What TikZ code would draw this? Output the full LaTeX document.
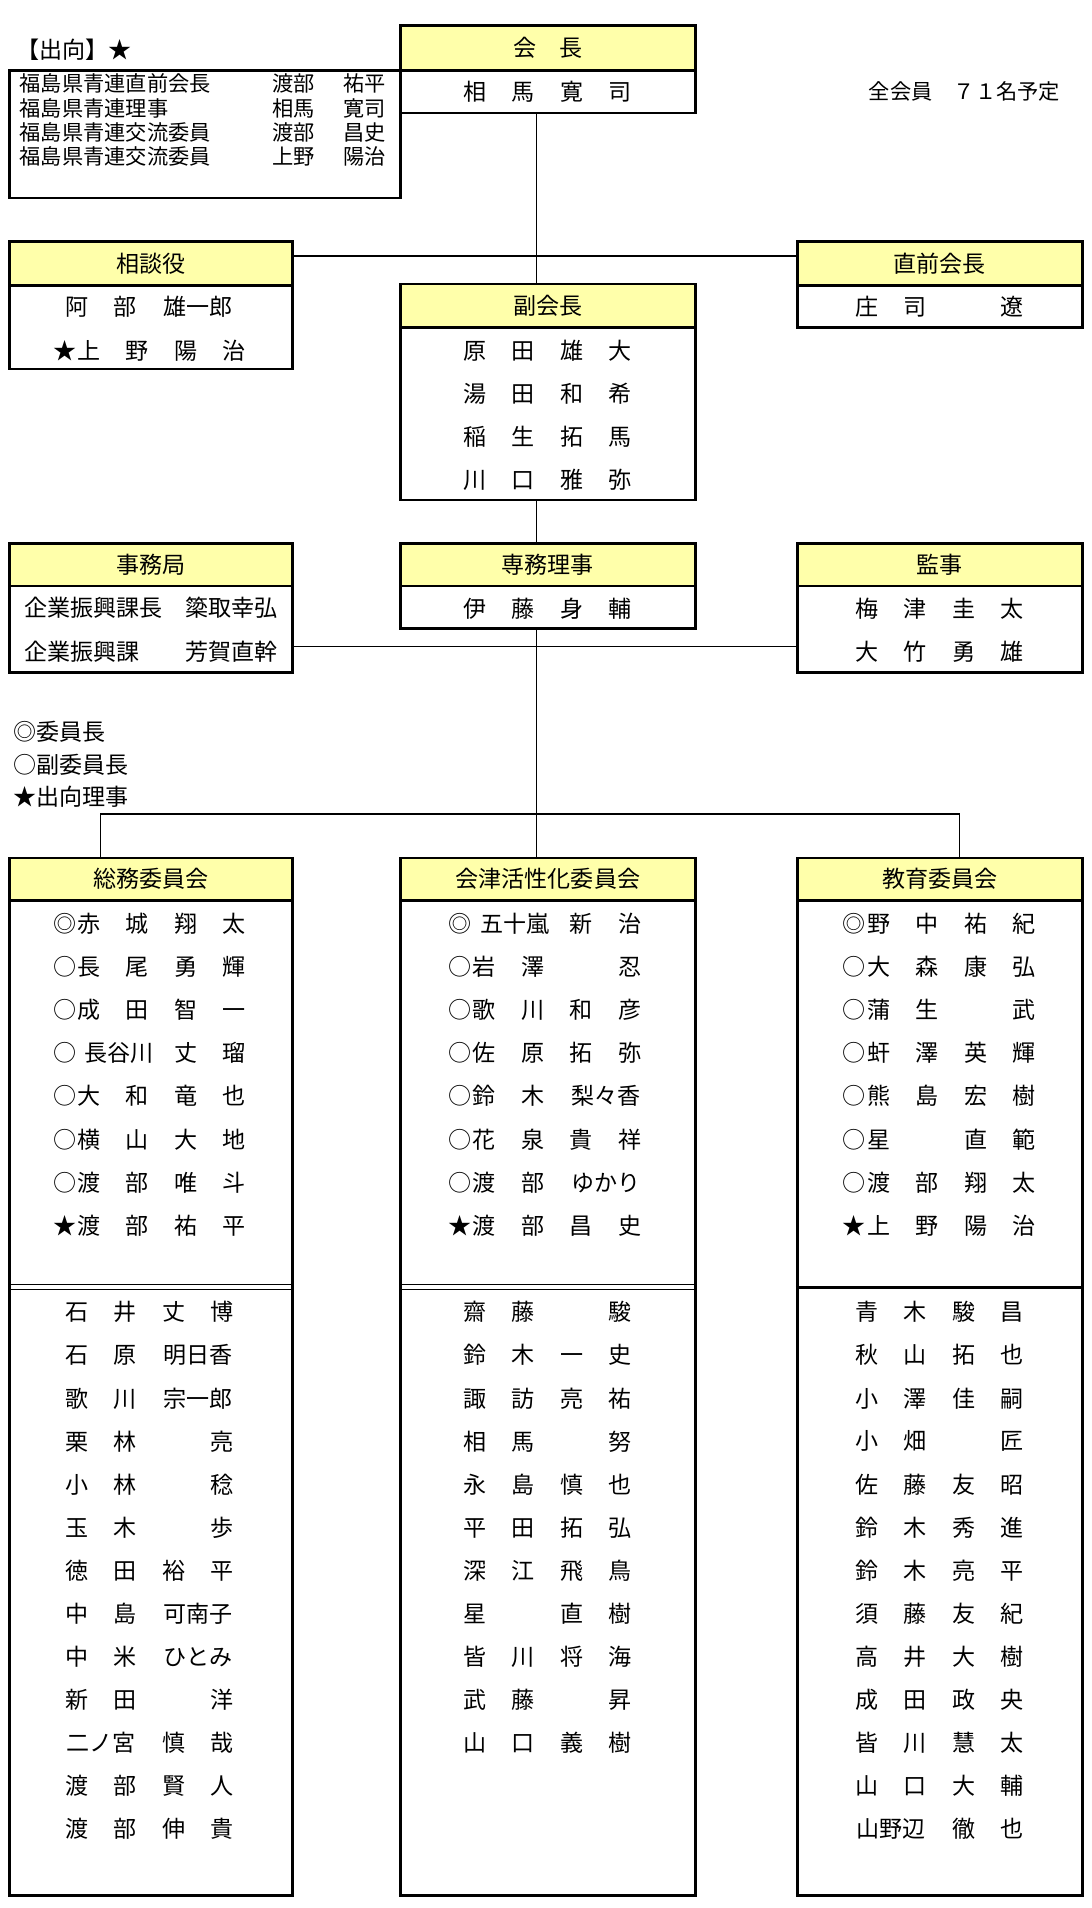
\documentclass[tikz,border=0pt]{standalone}
\usepackage{fontspec}
\setmainfont{Noto Sans CJK JP}
\newcommand\ZA[1]{\makebox[20pt]{#1}}
\newcommand\ZB[1]{\makebox[40pt]{#1}}
\newcommand\ZC[1]{\makebox[80pt]{#1}}
\newcommand\ZD[1]{\makebox[70pt]{#1}}
\newcommand\up[5]{\ZA{#1}\ZA{#2}\hspace{10pt}\ZB{#3}\ZB{#4}\ZB{#5}}
\newcommand\lo[4]{\ZB{#1}\ZB{#2}\ZB{#3}\ZB{#4}}
\definecolor{hy}{RGB}{255,255,170}
\begin{document}
\begin{tikzpicture}[x=1pt,y=-1pt,
  hdr/.style={draw,line width=2.2pt,fill=hy,inner sep=0,anchor=north west,font=\fontsize{19}{19}\selectfont},
  bdy/.style={draw,line width=2.2pt,inner sep=0,anchor=north west},
  txt/.style={inner sep=0,anchor=west,font=\fontsize{19}{19}\selectfont},
  sm/.style={inner sep=0,anchor=west,font=\fontsize{17.5}{17.5}\selectfont},
  con/.style={line width=1.1pt}]
\useasboundingbox (0,0) rectangle (900,1572.6);
\fill[white] (0,0) rectangle (900,1572.6);
% top-left
\node[txt] (shukko) at (13,41) {【出向】★};
\node[bdy,minimum width=322pt,minimum height=105pt] (shb) at (7,57) {};
\foreach \a/\b/\c [count=\i] in {福島県青連直前会長/渡部/祐平,福島県青連理事/相馬/寛司,福島県青連交流委員/渡部/昌史,福島県青連交流委員/上野/陽治}{
  \node[sm] (sa\i) at (16,49+20*\i) {\a};
  \node[sm] (sb\i) at (224,49+20*\i) {\b};
  \node[sm] (sc\i) at (283,49+20*\i) {\c};}
\node[sm] (zen) at (716,75) {全会員　７１名予定};
% 会長
\node[hdr,minimum width=243pt,minimum height=37pt] (kh) at (329,20) {会　長};
\node[bdy,minimum width=243pt,minimum height=35pt] (kb) at (329,57) {};
\node[txt] (kn) at (371,76) {\lo{相}{馬}{寛}{司}};
% 相談役
\node[hdr,minimum width=233pt,minimum height=36pt] (sh) at (7,198) {相談役};
\node[bdy,minimum width=233pt,minimum height=69pt] (sbx) at (7,234) {};
\node[txt] (s1) at (43,253) {\ZB{阿}\ZB{部}\ZC{雄一郎}};
\node[txt] (s2) at (43,289) {\up{★}{上}{野}{陽}{治}};
% 直前会長
\node[hdr,minimum width=235pt,minimum height=36pt] (ch) at (656,198) {直前会長};
\node[bdy,minimum width=235pt,minimum height=35pt] (cb) at (656,234) {};
\node[txt] (c1) at (694,253) {\lo{庄}{司}{}{遼}};
% 副会長
\node[hdr,minimum width=243pt,minimum height=36pt] (fh) at (329,233) {副会長};
\node[bdy,minimum width=243pt,minimum height=142pt] (fb) at (329,269) {};
\foreach \t [count=\i] in {{\lo{原}{田}{雄}{大}},{\lo{湯}{田}{和}{希}},{\lo{稲}{生}{拓}{馬}},{\lo{川}{口}{雅}{弥}}}
  \node[txt] (f\i) at (371,253.5+35.5*\i) {\t};
% 事務局
\node[hdr,minimum width=233pt,minimum height=35pt] (jh) at (7,447) {事務局};
\node[bdy,minimum width=233pt,minimum height=71pt] (jb) at (7,482) {};
\node[txt] (j1) at (20,501) {企業振興課長};
\node[txt,anchor=east] (j2) at (229,501) {簗取幸弘};
\node[txt] (j3) at (20,537) {企業振興課};
\node[txt,anchor=east] (j4) at (229,537) {芳賀直幹};
% 専務理事
\node[hdr,minimum width=243pt,minimum height=35pt] (mh) at (329,447) {専務理事};
\node[bdy,minimum width=243pt,minimum height=35pt] (mb) at (329,482) {};
\node[txt] (m1) at (371,502) {\lo{伊}{藤}{身}{輔}};
% 監事
\node[hdr,minimum width=235pt,minimum height=35pt] (ah) at (656,447) {監事};
\node[bdy,minimum width=235pt,minimum height=71pt] (ab) at (656,482) {};
\node[txt] (a1) at (694,502) {\lo{梅}{津}{圭}{太}};
\node[txt] (a2) at (694,537) {\lo{大}{竹}{勇}{雄}};
% legend
\node[txt] (lg1) at (11,603) {◎委員長};
\node[txt] (lg2) at (11,630) {○副委員長};
\node[txt] (lg3) at (11,657) {★出向理事};
% committees
\node[hdr,minimum width=233pt,minimum height=35pt] (c1h) at (7,706) {総務委員会};
\node[bdy,minimum width=233pt,minimum height=820pt] (c1b) at (7,741) {};
\node[hdr,minimum width=243pt,minimum height=35pt] (c2h) at (329,706) {会津活性化委員会};
\node[bdy,minimum width=243pt,minimum height=820pt] (c2b) at (329,741) {};
\node[hdr,minimum width=235pt,minimum height=35pt] (c3h) at (656,706) {教育委員会};
\node[bdy,minimum width=235pt,minimum height=820pt] (c3b) at (656,741) {};
\draw[line width=0.9pt] (c1b.west |- 0,1058.5) -- (c1b.east |- 0,1058.5) (c1b.west |- 0,1062.5) -- (c1b.east |- 0,1062.5);
\draw[line width=0.9pt] (c2b.west |- 0,1058.5) -- (c2b.east |- 0,1058.5) (c2b.west |- 0,1062.5) -- (c2b.east |- 0,1062.5);
\draw[line width=2.2pt] (c3b.west |- 0,1061) -- (c3b.east |- 0,1061);
\foreach \t [count=\i] in {{\up{◎}{赤}{城}{翔}{太}},{\up{○}{長}{尾}{勇}{輝}},{\up{○}{成}{田}{智}{一}},{\ZA{○}\ZD{長谷川}\ZB{丈}\ZB{瑠}},{\up{○}{大}{和}{竜}{也}},{\up{○}{横}{山}{大}{地}},{\up{○}{渡}{部}{唯}{斗}},{\up{★}{渡}{部}{祐}{平}}}
  \node[txt] (u1\i) at (43,726+35.5*\i) {\t};
\foreach \t [count=\i] in {{\ZA{◎}\ZD{五十嵐}\ZB{新}\ZB{治}},{\up{○}{岩}{澤}{}{忍}},{\up{○}{歌}{川}{和}{彦}},{\up{○}{佐}{原}{拓}{弥}},{\ZA{○}\ZA{鈴}\hspace{10pt}\ZB{木}\ZC{梨々香}},{\up{○}{花}{泉}{貴}{祥}},{\ZA{○}\ZA{渡}\hspace{10pt}\ZB{部}\ZC{ゆかり}},{\up{★}{渡}{部}{昌}{史}}}
  \node[txt] (u2\i) at (369,726+35.5*\i) {\t};
\foreach \t [count=\i] in {{\up{◎}{野}{中}{祐}{紀}},{\up{○}{大}{森}{康}{弘}},{\up{○}{蒲}{生}{}{武}},{\up{○}{虷}{澤}{英}{輝}},{\up{○}{熊}{島}{宏}{樹}},{\up{○}{星}{}{直}{範}},{\up{○}{渡}{部}{翔}{太}},{\up{★}{上}{野}{陽}{治}}}
  \node[txt] (u3\i) at (694,726+35.5*\i) {\t};
\foreach \t [count=\i] in {{\lo{石}{井}{丈}{博}},{\ZB{石}\ZB{原}\ZC{明日香}},{\ZB{歌}\ZB{川}\ZC{宗一郎}},{\lo{栗}{林}{}{亮}},{\lo{小}{林}{}{稔}},{\lo{玉}{木}{}{歩}},{\lo{徳}{田}{裕}{平}},{\ZB{中}\ZB{島}\ZC{可南子}},{\ZB{中}\ZB{米}\ZC{ひとみ}},{\lo{新}{田}{}{洋}},{\ZC{二ノ宮}\ZB{慎}\ZB{哉}},{\lo{渡}{部}{賢}{人}},{\lo{渡}{部}{伸}{貴}}}
  \node[txt] (l1\i) at (43,1046+35.5*\i) {\t};
\foreach \t [count=\i] in {{\lo{齋}{藤}{}{駿}},{\lo{鈴}{木}{一}{史}},{\lo{諏}{訪}{亮}{祐}},{\lo{相}{馬}{}{努}},{\lo{永}{島}{慎}{也}},{\lo{平}{田}{拓}{弘}},{\lo{深}{江}{飛}{鳥}},{\lo{星}{}{直}{樹}},{\lo{皆}{川}{将}{海}},{\lo{武}{藤}{}{昇}},{\lo{山}{口}{義}{樹}}}
  \node[txt] (l2\i) at (371,1046+35.5*\i) {\t};
\foreach \t [count=\i] in {{\lo{青}{木}{駿}{昌}},{\lo{秋}{山}{拓}{也}},{\lo{小}{澤}{佳}{嗣}},{\lo{小}{畑}{}{匠}},{\lo{佐}{藤}{友}{昭}},{\lo{鈴}{木}{秀}{進}},{\lo{鈴}{木}{亮}{平}},{\lo{須}{藤}{友}{紀}},{\lo{高}{井}{大}{樹}},{\lo{成}{田}{政}{央}},{\lo{皆}{川}{慧}{太}},{\lo{山}{口}{大}{輔}},{\ZC{山野辺}\ZB{徹}\ZB{也}}}
  \node[txt] (l3\i) at (694,1046+35.5*\i) {\t};
% connectors
\draw[con] (kb.south -| 442,0) -- (fh.north -| 442,0);
\draw[con] (sh.east |- 0,211) -- (ch.west |- 0,211);
\draw[con] (fb.south -| 442,0) -- (mh.north -| 442,0);
\draw[con] (jb.east |- 0,533) -- (ab.west |- 0,533);
\coordinate (hub) at (442,671);
\draw[con] (mb.south -| hub) -- (hub);
\draw[con] (c1h.north -| 83,0) |- (hub) -| (c3h.north -| 791,0);
\draw[con] (hub) -- (c2h.north -| hub);
\end{tikzpicture}
\end{document}
